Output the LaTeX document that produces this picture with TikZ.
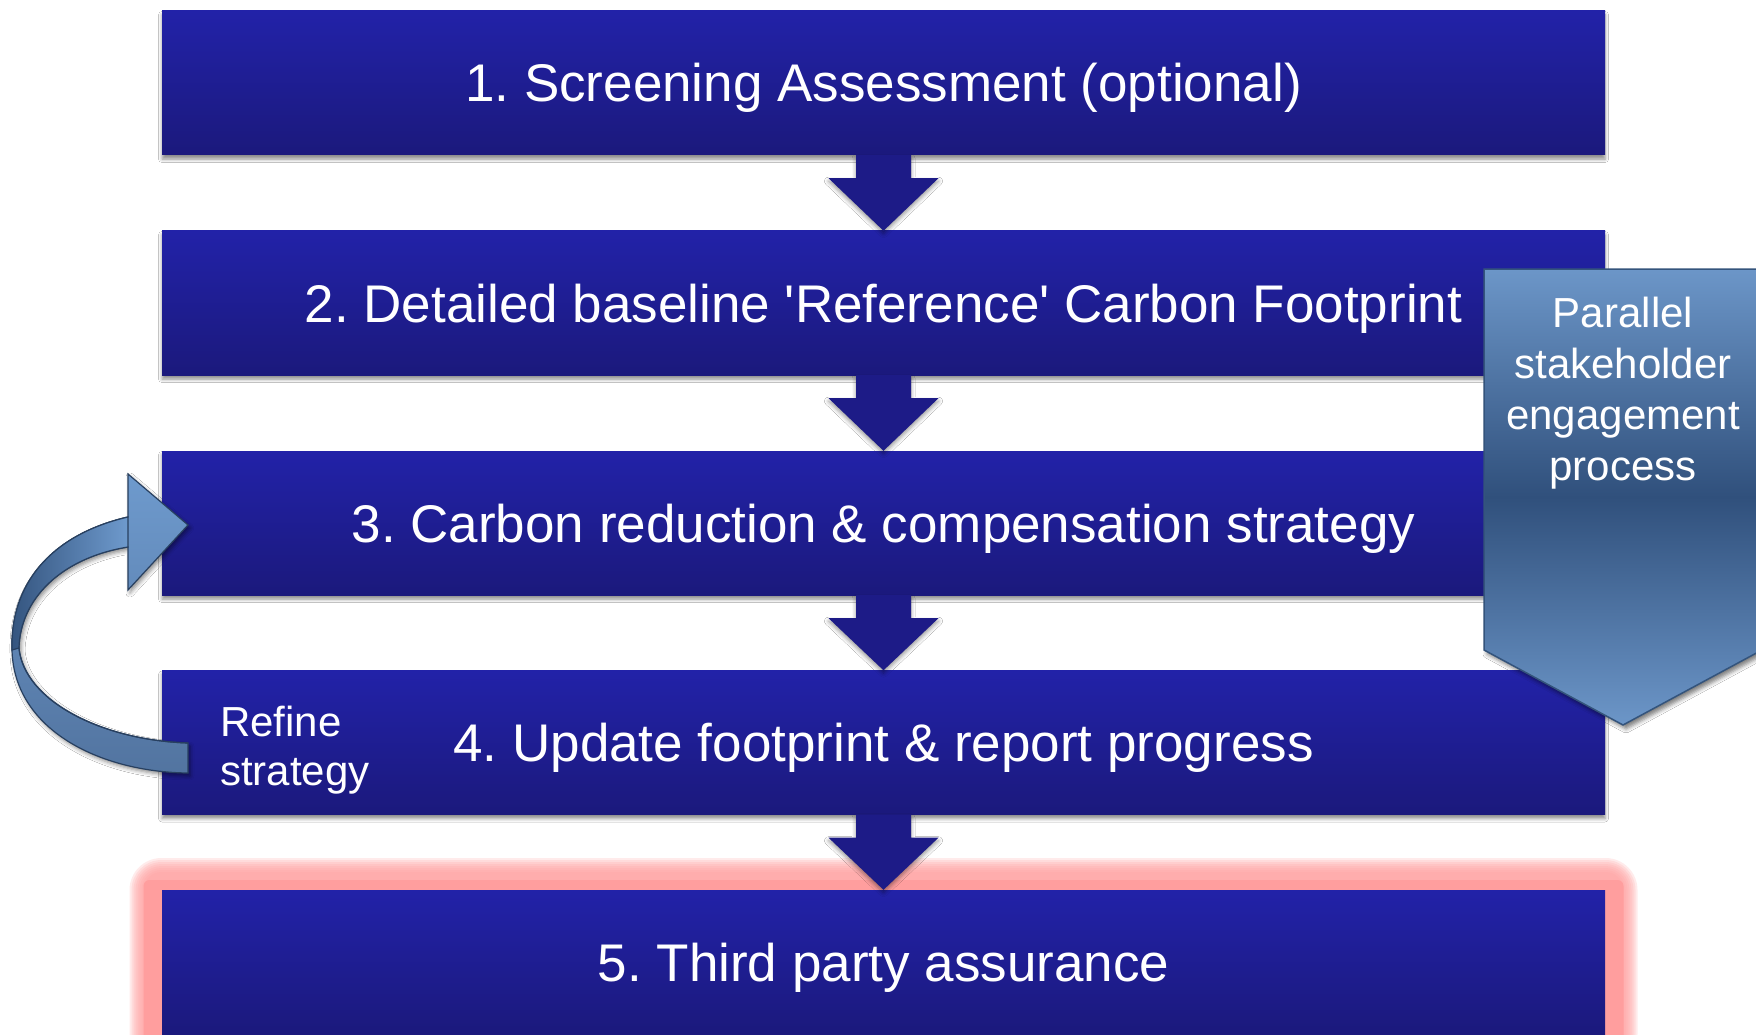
\documentclass[tikz,border=0pt]{standalone}
\usepackage{fontspec}
\setmainfont{Liberation Sans}
\usetikzlibrary{shadows.blur,calc}

\definecolor{boxtop}{RGB}{34,34,168}
\definecolor{boxbot}{RGB}{27,25,124}
\definecolor{arrowblue}{RGB}{29,27,135}
\definecolor{steellight}{RGB}{108,150,200}
\definecolor{steeldark}{RGB}{48,80,124}
\definecolor{steelline}{RGB}{52,84,124}
\definecolor{curvelight}{RGB}{110,154,205}
\definecolor{curvemid}{RGB}{82,116,160}
\definecolor{curvedark}{RGB}{52,84,126}
\definecolor{curveline}{RGB}{40,64,96}
\definecolor{glowpink}{RGB}{255,158,158}

\begin{document}
\frenchspacing
\begin{tikzpicture}[x=1pt,y=-1pt,
  plainbox/.style={minimum width=1443pt, minimum height=144pt, inner sep=0pt,
    top color=boxtop, bottom color=boxbot, text=white,
    font=\fontsize{53}{64}\selectfont, text height=38pt, text depth=0pt},
  stepbox/.style={plainbox,
    blur shadow={shadow xshift=0pt, shadow yshift=-4pt, shadow blur radius=3.5pt, shadow opacity=45}},
  sidetext/.style={text=white, inner sep=0pt},
  blockarrow/.style={fill=arrowblue,
    blur shadow={shadow xshift=0pt, shadow yshift=-3pt, shadow blur radius=4pt, shadow opacity=40}}
]
\useasboundingbox (0,0) rectangle (1756,1035);
\fill[white] (0,0) rectangle (1756,1035);

% glow behind box 5
\coordinate (g1) at (161.5,890);
\coordinate (g2) at (1605.5,1034);
\foreach \r in {32,30,...,18}{
  \fill[glowpink, opacity=0.2, rounded corners=\r pt] ($(g1)+(-\r,-\r)$) rectangle ($(g2)+(\r,\r)$);
}
\fill[glowpink, rounded corners=6pt] ($(g1)+(-18,-10)$) rectangle ($(g2)+(18,16)$);

% boxes
\node[stepbox] (b1) at (883.5,83) {1. Screening Assessment (optional)};
\node[stepbox] (b2) at (883.5,303) {2. Detailed baseline \textquotesingle Reference\textquotesingle\ Carbon Footprint};
\node[stepbox] (b3) at (883.5,523) {3. Carbon reduction \& compensation strategy};
\node[stepbox] (b4) at (883.5,742.5) {4. Update footprint \& report progress};
\node[plainbox] (b5) at (883.5,962) {5. Third party assurance};

% down block arrows
\foreach \a/\b in {b1/b2,b2/b3,b3/b4,b4/b5}{
  \path[blockarrow] ($(\a.south)+(-27.5,0)$) -- ($(\a.south)+(-27.5,23)$) -- ($(\a.south)+(-55,23)$)
    -- (\b.north) -- ($(\a.south)+(55,23)$) -- ($(\a.south)+(27.5,23)$) -- ($(\a.south)+(27.5,0)$) -- cycle;
}

% refine text
\node[sidetext, anchor=west, align=left, font=\fontsize{42}{49}\selectfont] (refine) at (220,750) {Refine\\strategy};

% curved arrow
\path[top color=curvelight, bottom color=curvemid, draw=curveline, line width=1.2pt,
  blur shadow={shadow xshift=2pt, shadow yshift=-3pt, shadow blur radius=4pt, shadow opacity=45}]
  (188,743) .. controls (100,740) and (24,700) .. (19,648)
  .. controls (20,600) and (60,558) .. (128,547)
  -- (128,590) -- (188,525) -- (128,474) -- (128,517)
  .. controls (50,535) and (10,585) .. (12,650)
  .. controls (14,730) and (100,772) .. (188,773) -- cycle;
% darker back of the upper band
\path[left color=curvedark, right color=curvelight, draw=curveline, line width=1.2pt]
  (128,547) .. controls (60,558) and (20,600) .. (19,648)
  -- (12,650) .. controls (10,585) and (50,535) .. (128,517) -- cycle;
\path[draw=curveline, line width=1.2pt]
  (188,743) .. controls (100,740) and (24,700) .. (19,648);

% parallel process pentagon
\path[top color=steellight, bottom color=steellight, middle color=steeldark, draw=steelline, line width=1.5pt,
  blur shadow={shadow xshift=3pt, shadow yshift=-4pt, shadow blur radius=4pt, shadow opacity=50}]
  (1484,269) -- (1762,269) -- (1762,650) -- (1623,725) -- (1484,650) -- cycle;
\node[sidetext, align=center, font=\fontsize{42}{51}\selectfont] (par) at (1623,393)
  {Parallel\\stakeholder\\engagement\\process};
\end{tikzpicture}
\end{document}
